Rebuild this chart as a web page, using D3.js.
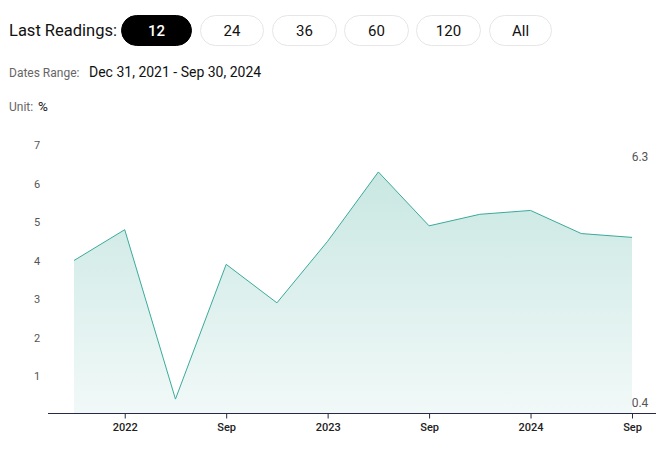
<!DOCTYPE html>
<html><head><meta charset="utf-8">
<script src="https://cdn.jsdelivr.net/npm/d3@7"></script>
<style>
body{margin:0;background:#fff;font-family:Roboto,"Open Sans",sans-serif;}
</style></head>
<body><svg id="c" width="667" height="454"></svg>
<script>
const buttons = ["12","24","36","60","120","All"];
const dates = ["2021-12-31","2022-03-31","2022-06-30","2022-09-30","2022-12-31","2023-03-31","2023-06-30","2023-09-30","2023-12-31","2024-03-31","2024-06-30","2024-09-30"];
const values = [4.0,4.8,0.4,3.9,2.9,4.5,6.3,4.9,5.2,5.3,4.7,4.6];
const yTicks = [1,2,3,4,5,6,7];
const xTickIdx = [1,3,5,7,9,11];
const xTickLabels = ["2022","Sep","2023","Sep","2024","Sep"];

const svg = d3.select("#c");
const font = "Roboto, sans-serif";

// header
svg.append("text").attr("x",9).attr("y",36).attr("font-family",font).attr("font-size",16.5).attr("fill","#111").text("Last Readings:");
const bx = [121,200,272,344,416,489], bw=[70,63,64,64,64,62];
buttons.forEach((b,i)=>{
  const g = svg.append("g");
  g.append("rect").attr("x",bx[i]+0.5).attr("y",15.5).attr("width",bw[i]).attr("height",30).attr("rx",15)
   .attr("fill", i===0?"#000":"#fff").attr("stroke", i===0?"#000":"#e6e6e6");
  g.append("text").attr("x",bx[i]+bw[i]/2+0.5).attr("y",35.5).attr("text-anchor","middle").attr("font-family",font)
   .attr("font-size",15).attr("font-weight", i===0?500:400).attr("fill", i===0?"#fff":"#111").text(b);
});
svg.append("text").attr("x",9).attr("y",77).attr("font-family",font).attr("font-size",12).attr("fill","#666").text("Dates Range:");
svg.append("text").attr("x",89).attr("y",77).attr("font-family",font).attr("font-size",14).attr("fill","#111").text("Dec 31, 2021 - Sep 30, 2024");
svg.append("text").attr("x",9).attr("y",111).attr("font-family",font).attr("font-size",12).attr("fill","#666").text("Unit:");
svg.append("text").attr("x",38).attr("y",111).attr("font-family",font).attr("font-size",13.5).attr("fill","#111").text("%");

// scales
const x = d3.scalePoint().domain(d3.range(dates.length)).range([74,632]);
const y = d3.scaleLinear().domain([0,7]).range([414.5,145]);

const defs = svg.append("defs");
const grad = defs.append("linearGradient").attr("id","g")
  .attr("gradientUnits","userSpaceOnUse").attr("x1",0).attr("x2",0).attr("y1",y(6.3)).attr("y2",413);
grad.append("stop").attr("offset",0).attr("stop-color","#c9e7e2");
grad.append("stop").attr("offset",1).attr("stop-color","#f1f9f8");

const area = d3.area().x((d,i)=>x(i)).y0(413).y1(d=>y(d));
const line = d3.line().x((d,i)=>x(i)).y(d=>y(d));
svg.append("path").datum(values).attr("d",area).attr("fill","url(#g)");
svg.append("path").datum(values).attr("d",line).attr("fill","none").attr("stroke","#3aaa9c").attr("stroke-width",1);

// y labels
svg.selectAll(".yt").data(yTicks).enter().append("text").attr("x",37).attr("y",d=>y(d)+4)
  .attr("text-anchor","middle").attr("font-family",font).attr("font-size",11).attr("fill","#555").text(d=>d);

// x axis
const xa = d3.axisBottom(x).tickValues(xTickIdx).tickSize(5).tickSizeOuter(0).tickFormat((d,i)=>xTickLabels[i]);
const ag = svg.append("g").attr("transform","translate(0,413.5)").call(xa);
ag.select(".domain").remove();
ag.append("line").attr("x1",48).attr("x2",656).attr("stroke","#262a44").attr("stroke-width",1.2);
ag.selectAll(".tick line").attr("stroke","#262a44");
ag.selectAll(".tick text").attr("font-family",font).attr("font-size",11).attr("fill","#222").attr("dy","0.9em").attr("font-weight",500);

// max/min labels
const maxV = d3.max(values), minV = d3.min(values);
svg.append("text").attr("x",640).attr("y",161).attr("text-anchor","middle").attr("font-family",font).attr("font-size",12).attr("fill","#555").text(maxV.toFixed(1));
svg.append("text").attr("x",640).attr("y",407).attr("text-anchor","middle").attr("font-family",font).attr("font-size",12).attr("fill","#555").text(minV.toFixed(1));
</script></body></html>
